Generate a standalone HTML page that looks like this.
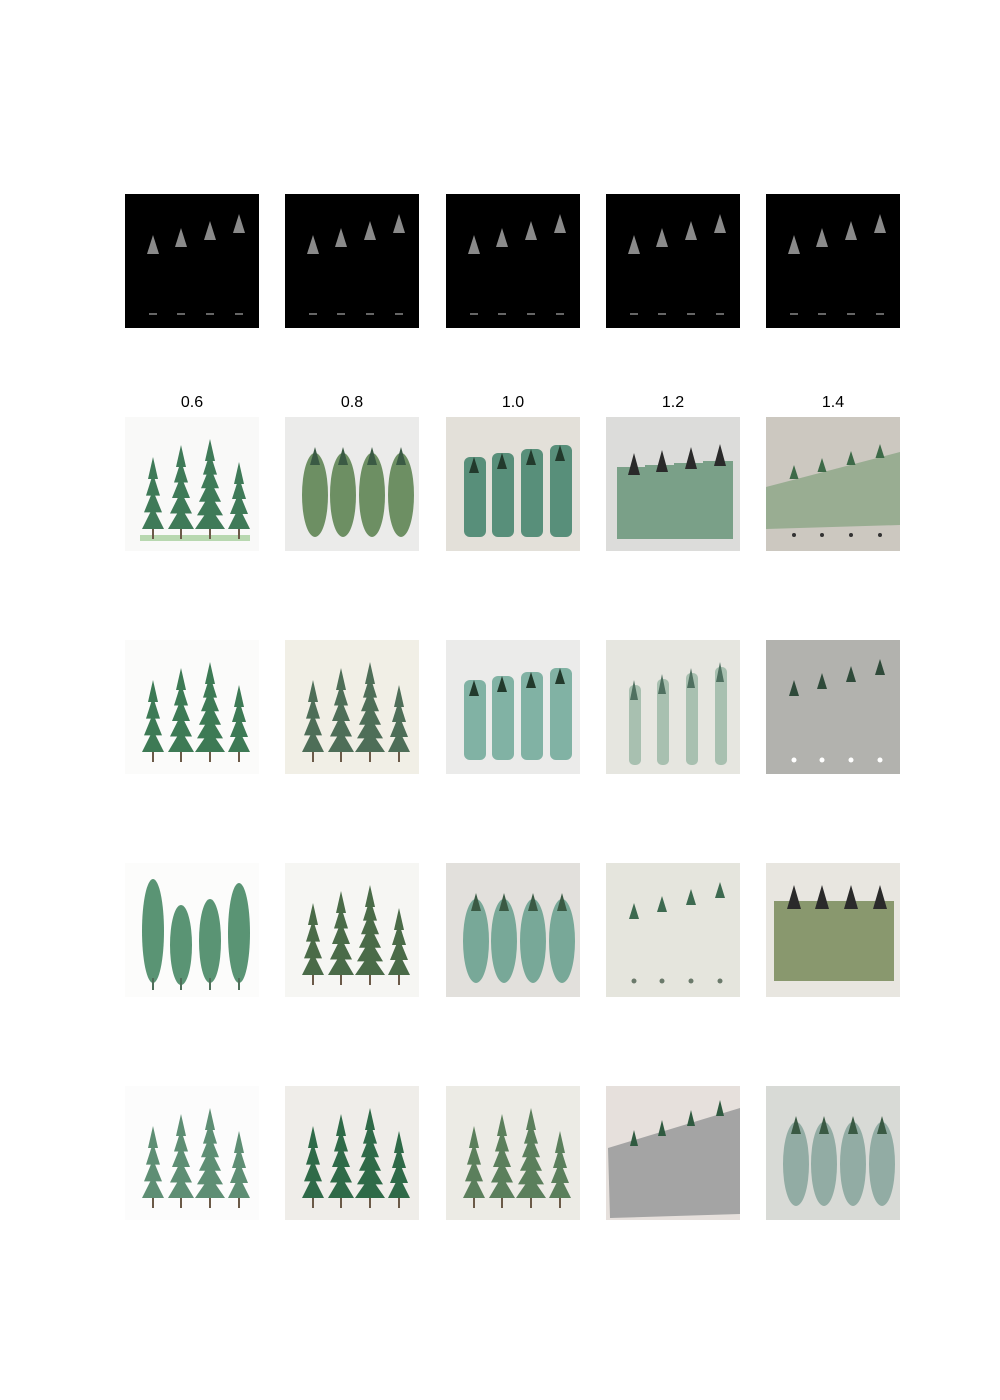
<!DOCTYPE html>
<html><head><meta charset="utf-8">
<style>
html,body{margin:0;padding:0;background:#fff;}
#wrap{position:relative;width:1000px;height:1400px;background:#fff;font-family:"Liberation Sans",sans-serif;}
.cell{position:absolute;width:134px;height:134px;}
.title{position:absolute;width:134px;text-align:center;font-size:16px;color:#000;}
</style></head>
<body>
<div id="wrap"></div>
<script>
const colX=[125,285,446,606,766];
const rowY=[194,417,640,863,1086];
const titles=["0.6","0.8","1.0","1.2","1.4"];
const bgColors=[
 ["#000","#000","#000","#000","#000"],
 ["#f9f9f8","#ebebea","#e3e0d9","#dcdcda","#ccc8c0"],
 ["#fbfbfa","#f1efe6","#ebebea","#e6e6e0","#b2b2ae"],
 ["#fcfcfb","#f6f6f3","#e2e0dc","#e5e5dd","#e8e6e0"],
 ["#fcfcfc","#efede9","#ecebe5","#e6e0dc","#d8dad6"]];
const kinds=[
 ["dark","dark","dark","dark","dark"],
 ["conifer","blob","column","block","slope"],
 ["conifer","conifer","column","pale","small"],
 ["cypress","conifer","blob","small","olive"],
 ["conifer","conifer","conifer","greyslope","blob"]];
const fgColors=[
 ["#888","#888","#888","#888","#888"],
 ["#3f7a58","#6d8f63","#3f8068","#7aa088","#8fa88a"],
 ["#3d7a55","#4e6e58","#6fa898","#a8c0b0","#2f4a3a"],
 ["#5a9474","#4a6b48","#78a898","#3d6a50","#7e8f62"],
 ["#5e8e74","#2f6a48","#5b7f5c","#a4a4a4","#92aca4"]];
const treeX=[28,56,85,114];
const NS="http://www.w3.org/2000/svg";
const wrap=document.getElementById('wrap');
function el(t,a,p){const e=document.createElementNS(NS,t);for(const k in a)e.setAttribute(k,a[k]);p.appendChild(e);return e;}
function tri(svg,cx,top,bot,w,c){el('polygon',{points:`${cx},${top} ${cx-w/2},${bot} ${cx+w/2},${bot}`,fill:c},svg);}
titles.forEach((t,i)=>{const d=document.createElement('div');d.className='title';d.style.left=colX[i]+'px';d.style.top='394px';d.textContent=t;


wrap.appendChild(d);});
rowY.forEach((y,r)=>colX.forEach((x,c)=>{
 const svg=document.createElementNS(NS,'svg');svg.setAttribute('class','cell');svg.setAttribute('width',134);svg.setAttribute('height',134);
 svg.style.left=x+'px';svg.style.top=y+'px';
 
 
 wrap.appendChild(svg);
 el('rect',{x:0,y:0,width:134,height:134,fill:bgColors[r][c]},svg);
 const k=kinds[r][c],f=fgColors[r][c];
 if(k==='conifer'&&r===1&&c===0)el('rect',{x:15,y:118,width:110,height:6,fill:'#b8d8b0'},svg);
 if(k==='slope')el('polygon',{points:'0,70 134,35 134,108 0,112',fill:f,opacity:0.85},svg);
 if(k==='olive')el('rect',{x:8,y:38,width:120,height:80,fill:f,opacity:0.9},svg);
 if(k==='greyslope')el('polygon',{points:'2,62 134,22 134,128 4,132',fill:f},svg);
 treeX.forEach((tx,i)=>{
  if(k==='dark'){const b=60-i*7;tri(svg,tx,b-19,b,12,'#8a8a8a');el('rect',{x:tx-4,y:119,width:8,height:2,fill:'#666'},svg);}
  else if(k==='conifer'){const top=[40,28,22,45][i];const n=Math.max(3,Math.floor((112-top)/15));const step=(112-top-22)/(n-1);for(let j=0;j<n;j++){tri(svg,tx,top+j*step,top+j*step+22,10+j*4,f);}el('rect',{x:tx-1,y:112,width:2,height:10,fill:'#6b5a48'},svg);}
  else if(k==='cypress'){el('ellipse',{cx:tx,cy:[68,82,78,70][i],rx:11,ry:[52,40,42,50][i],fill:f},svg);el('rect',{x:tx-1,y:115,width:2,height:12,fill:'#4f6f5a'},svg);}
  else if(k==='blob'){el('ellipse',{cx:tx+2,cy:78,rx:13,ry:42,fill:f},svg);tri(svg,tx+2,30,48,10,'#3a5a44');}
  else if(k==='column'){el('rect',{x:tx-10,y:40-i*4,width:22,height:80+i*4,rx:6,fill:f,opacity:0.85},svg);tri(svg,tx,40-i*4,56-i*4,10,'#223a2c');}
  else if(k==='block'){el('rect',{x:tx-17,y:50-i*2,width:30,height:72+i*2,fill:f},svg);tri(svg,tx,36-i*3,58-i*3,12,'#2a2a2a');}
  else if(k==='pale'){el('rect',{x:tx-5,y:45-i*6,width:12,height:80+i*6,rx:5,fill:f},svg);tri(svg,tx,40-i*6,60-i*6,8,'#4f7060');}
  else if(k==='small'){const b=56-i*7;tri(svg,tx,b-16,b,10,f);el('circle',{cx:tx,cy:(r===2?120:118),r:2.5,fill:(r===2?'#fff':'#6b7a6b')},svg);}
  else if(k==='olive'){tri(svg,tx,22,46,14,'#2a2a2a');}
  else if(k==='greyslope'){tri(svg,tx,44-i*10,60-i*10,8,'#2f5a40');}
  else if(k==='slope'){tri(svg,tx,48-i*7,62-i*7,9,'#3d6a48');el('circle',{cx:tx,cy:118,r:2,fill:'#333'},svg);}
 });
}));
</script>
</body></html>
